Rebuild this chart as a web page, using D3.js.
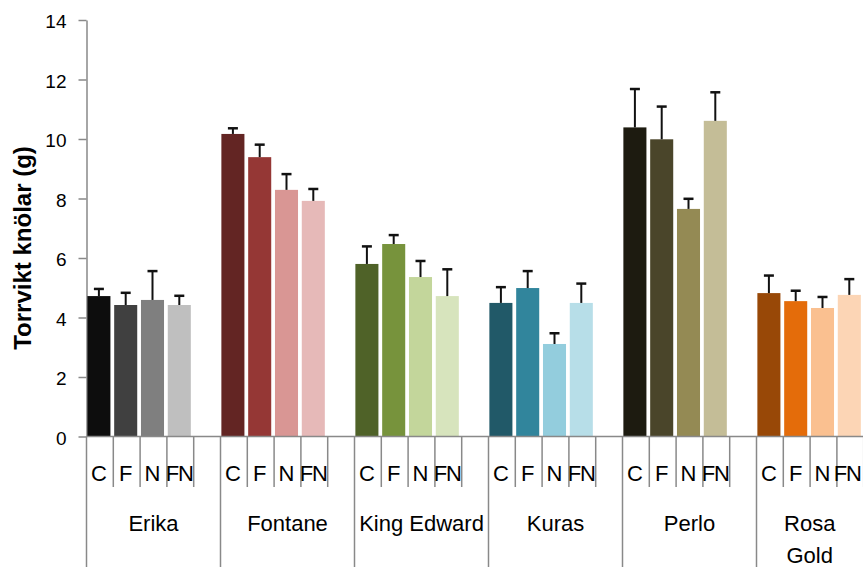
<!DOCTYPE html>
<html>
<head>
<meta charset="utf-8">
<script src="https://cdn.jsdelivr.net/npm/d3@7"></script>
<style>
  body { margin: 0; background: #fff; }
  svg { display: block; font-family: "Liberation Sans", Arial, sans-serif; }
</style>
</head>
<body>
<div id="chart"></div>
<script>
// varieties (outer category level) and treatments (inner level)
var categories = ["Erika", "Fontane", "King Edward", "Kuras", "Perlo", "Rosa Gold"];
var treatments = ["C", "F", "N", "FN"];

// mean dry weight per variety, one array per treatment
var meanC  = [4.72, 10.17, 5.80, 4.49, 10.39, 4.82];
var meanF  = [4.42, 9.39, 6.47, 4.99, 9.99, 4.55];
var meanN  = [4.59, 8.29, 5.36, 3.11, 7.65, 4.32];
var meanFN = [4.42, 7.92, 4.72, 4.49, 10.61, 4.76];

// error bar (upper) per variety
var errC  = [0.24, 0.19, 0.59, 0.53, 1.29, 0.59];
var errF  = [0.41, 0.42, 0.30, 0.57, 1.10, 0.35];
var errN  = [0.97, 0.53, 0.54, 0.36, 0.34, 0.37];
var errFN = [0.31, 0.40, 0.90, 0.65, 0.96, 0.53];

var yTicks = [0, 2, 4, 6, 8, 10, 12, 14];
var yTitle = "Torrvikt knölar (g)";

// colours: one row per variety, C / F / N / FN
var palette = [
  ["#0d0d0d", "#404040", "#7f7f7f", "#bfbfbf"],
  ["#632523", "#953735", "#d99694", "#e6b9b8"],
  ["#4f6228", "#77933c", "#c3d69b", "#d7e4bd"],
  ["#215968", "#31859c", "#93cddd", "#b7dee8"],
  ["#1d1b10", "#4a452a", "#948a54", "#c4bd97"],
  ["#984807", "#e46c0a", "#fac090", "#fcd5b5"]
];

var W = 863, H = 567;
var axisColor = "#898989";

var svg = d3.select("#chart").append("svg")
  .attr("width", W)
  .attr("height", H);

// build rows from the arrays
var means = [meanC, meanF, meanN, meanFN];
var errs = [errC, errF, errN, errFN];
var rows = [];
var slots = [];
categories.forEach(function(cat, ci) {
  treatments.forEach(function(t, ti) {
    var key = cat + "|" + t;
    slots.push(key);
    rows.push({key: key, cat: ci, t: ti, label: t, value: means[ti][ci], err: errs[ti][ci]});
  });
  slots.push(cat + "|blank"); // empty slot closing each group
});

var x = d3.scaleBand()
  .domain(slots)
  .range([86.5, 86.5 + slots.length * 26.8])
  .padding(0);

var y = d3.scaleLinear()
  .domain([0, 14])
  .range([436.5, 20]);

var step = x.bandwidth();
var barW = step * 0.86;

// y axis
var yAxis = svg.append("g")
  .attr("transform", "translate(86.5,0)")
  .call(d3.axisLeft(y).tickValues(yTicks).tickSize(8).tickSizeOuter(0).tickPadding(12));
yAxis.select(".domain").attr("stroke", axisColor).attr("stroke-width", 1.5);
yAxis.selectAll(".tick line").attr("stroke", axisColor).attr("stroke-width", 1.5);
yAxis.selectAll(".tick text")
  .attr("font-size", 19)
  .attr("fill", "#000")
  .attr("dy", "0.4em")
  .attr("font-family", "Liberation Sans, Arial, sans-serif");

svg.append("text")
  .attr("transform", "translate(31,248) rotate(-90)")
  .attr("text-anchor", "middle")
  .attr("font-size", 24)
  .attr("font-weight", "bold")
  .text(yTitle);

// bars
svg.selectAll("rect.bar")
  .data(rows)
  .enter()
  .append("rect")
    .attr("class", "bar")
    .attr("x", function(d) { return x(d.key) + (step - barW) / 2 - 1; })
    .attr("width", barW)
    .attr("y", function(d) { return y(d.value); })
    .attr("height", function(d) { return y(0) - y(d.value); })
    .attr("fill", function(d) { return palette[d.cat][d.t]; });

// error bars
var eb = svg.selectAll("g.err")
  .data(rows)
  .enter()
  .append("g")
    .attr("class", "err")
    .attr("transform", function(d) { return "translate(" + (x(d.key) + step / 2 - 1) + ",0)"; });
eb.append("line")
  .attr("x1", 0).attr("x2", 0)
  .attr("y1", function(d) { return y(d.value); })
  .attr("y2", function(d) { return y(d.value + d.err); })
  .attr("stroke", "#111")
  .attr("stroke-width", 2);
eb.append("line")
  .attr("x1", -5).attr("x2", 5)
  .attr("y1", function(d) { return y(d.value + d.err); })
  .attr("y2", function(d) { return y(d.value + d.err); })
  .attr("stroke", "#111")
  .attr("stroke-width", 2.5);

// x axis line
var xEnd = x.range()[1];
svg.append("line")
  .attr("x1", 86.5).attr("x2", xEnd)
  .attr("y1", y(0)).attr("y2", y(0))
  .attr("stroke", axisColor).attr("stroke-width", 1.5);

// slot boundaries: long at group edges, short elsewhere
var bounds = slots.map(function(s, i) { return {x: x(s), long: i % 5 === 0}; });
bounds.push({x: xEnd, long: true});
svg.selectAll("line.xtick")
  .data(bounds)
  .enter()
  .append("line")
    .attr("class", "xtick")
    .attr("x1", function(d) { return d.x; })
    .attr("x2", function(d) { return d.x; })
    .attr("y1", y(0))
    .attr("y2", function(d) { return d.long ? H : 487; })
    .attr("stroke", axisColor)
    .attr("stroke-width", 1.5);

// inner labels
svg.selectAll("text.sub")
  .data(rows)
  .enter()
  .append("text")
    .attr("class", "sub")
    .attr("y", 481)
    .attr("text-anchor", "middle")
    .attr("font-size", 22)
    .attr("letter-spacing", function(d) { return d.label.length > 1 ? "-1px" : null; })
    .text(function(d) { return d.label; })
    .attr("x", function(d) {
      // keep the rightmost label inside the picture
      var half = this.getComputedTextLength() / 2;
      return Math.min(x(d.key) + step / 2 - 1, W - 2 - half);
    });

// outer labels, centred on the visible part of each group, wrapped if too wide
categories.forEach(function(cat, ci) {
  var x0 = x(cat + "|C");
  var x1 = Math.min(x0 + step * 5, W);
  var cx = (x0 + x1) / 2;
  var t = svg.append("text")
    .attr("x", cx)
    .attr("y", 531)
    .attr("text-anchor", "middle")
    .attr("font-size", 22)
    .text(cat);
  if (t.node().getComputedTextLength() > (x1 - x0) - 8 && cat.indexOf(" ") > 0) {
    var words = cat.split(" ");
    t.text(null);
    words.forEach(function(w, wi) {
      t.append("tspan")
        .attr("x", cx)
        .attr("dy", wi === 0 ? 0 : 32)
        .text(w);
    });
  }
});
</script>
</body>
</html>
